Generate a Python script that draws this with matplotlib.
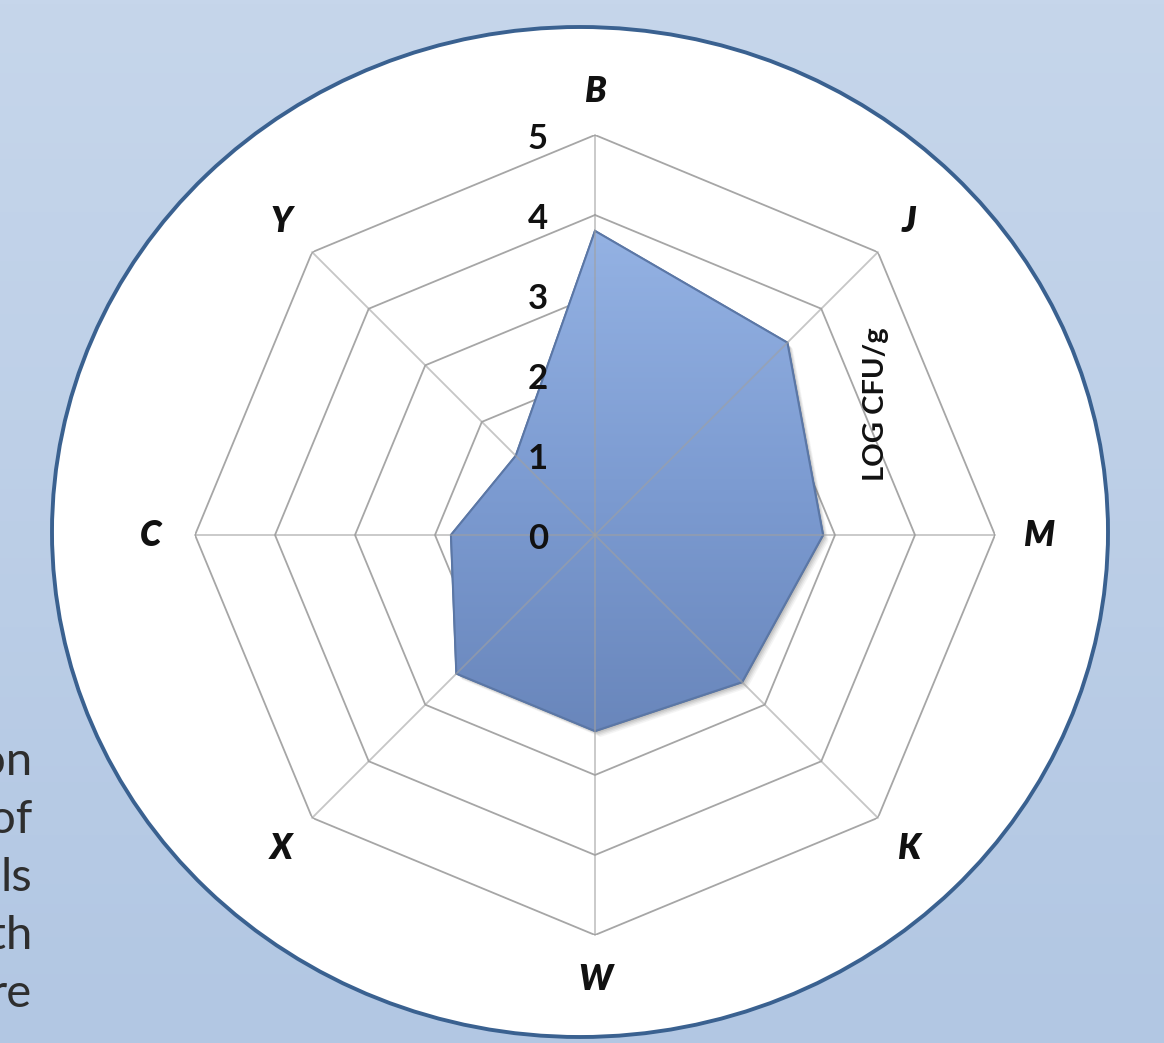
import numpy as np
import matplotlib
matplotlib.use('Agg')
import matplotlib.pyplot as plt
from matplotlib.patches import Ellipse
from matplotlib.colors import LinearSegmentedColormap
from matplotlib import transforms

# data
categories = ['B', 'J', 'M', 'K', 'W', 'X', 'C', 'Y']
values = [3.8, 3.4, 2.85, 2.6, 2.45, 2.45, 1.8, 1.4]
ticks = [0, 1, 2, 3, 4, 5]
unit_label = 'LOG CFU/g'
side_text = ['on', 'of', 'ls', 'th', 're']   # cut-off body text at lower left

plt.rcParams['font.family'] = ['Lato', 'DejaVu Sans']

W, H = 1164, 1043
fig = plt.figure(figsize=(W / 100, H / 100), dpi=100)

# ---------- background: gradient + white oval ----------
bg = fig.add_axes([0, 0, 1, 1], zorder=0)
grad = np.linspace(0, 1, 256).reshape(-1, 1)
bg.imshow(grad, extent=[0, W, H, 0], aspect='auto',
          cmap=LinearSegmentedColormap.from_list('bg', ['#c6d6eb', '#b2c7e3']))
bg.add_patch(Ellipse((580, 532), 1056, 1010, facecolor='white', edgecolor='#3a6190', lw=2.8))
bg.set_xlim(0, W)
bg.set_ylim(H, 0)
bg.axis('off')

for i, s in enumerate(side_text):
    bg.text(32, 762 + i * 58, s, ha='right', va='center', fontsize=34, color='#2e2e2e')

# ---------- radar ----------
ax = fig.add_axes([195 / W, 108 / H, 800 / W, 800 / H], projection='polar', zorder=1)
ax.set_facecolor('none')
ax.set_theta_zero_location('N')
ax.set_theta_direction(-1)
ax.grid(False)
ax.set_xticks([])
ax.set_yticks([])
ax.spines['polar'].set_visible(False)

angles = np.linspace(0, 2 * np.pi, len(categories), endpoint=False)
ang_c = np.append(angles, angles[0])
val_c = np.append(values, values[0])

for r in ticks[1:]:
    ax.plot(ang_c, [r] * len(ang_c), color='#a6a6a6', lw=1.3, zorder=1)

# soft shadow
for k, a in [(10, 0.05), (8, 0.07), (6, 0.09), (4, 0.11), (2, 0.12)]:
    tr = transforms.offset_copy(ax.transData, fig=fig, x=k * 0.55, y=-k * 0.6, units='dots')
    ax.fill(ang_c, val_c, color='#3a3a3a', alpha=a, lw=0, transform=tr, zorder=2)

poly = ax.fill(ang_c, val_c, facecolor='#7f9ed3', edgecolor='#56729f', lw=1.6, zorder=3)[0]
ax.set_ylim(0, 5)

# ---------- overlay: gradient fill of the area, spokes, labels ----------
ov = fig.add_axes([0, 0, 1, 1], zorder=2)
ov.set_facecolor('none')
ov.set_xlim(0, W)
ov.set_ylim(H, 0)
ov.axis('off')

fill_grad = np.linspace(0, 1, 256).reshape(-1, 1)
im = ov.imshow(fill_grad, extent=[0, W, 760, 220], aspect='auto',
               cmap=LinearSegmentedColormap.from_list('fill', ['#95b3e4', '#7c9bd1', '#6784b9']))
im.set_clip_path(poly)
ov.set_xlim(0, W)
ov.set_ylim(H, 0)

# outline again on top of the gradient
ov.plot(ang_c, val_c, color='#5b77a6', lw=1.4, transform=ax.transData)

for a in angles:
    ov.plot([a, a], [0, 5], color='#a0a0a0', lw=1.3, alpha=0.6, transform=ax.transData)

for t in ticks:
    ov.annotate(str(t), xy=(0, t), xycoords=ax.transData, xytext=(-47, -4),
                textcoords='offset pixels', ha='right', va='center',
                fontsize=25, fontweight='bold', color='#111111')

for a, c in zip(angles, categories):
    ov.text(a, 5.55, c, transform=ax.transData, ha='center', va='center', fontsize=25,
            fontweight='heavy', fontstyle='italic', color='#111111')

ov.text(876, 404, unit_label, rotation=90, ha='center', va='center',
        fontsize=21, fontweight='bold', color='#111111')

fig.savefig('out.png', dpi=100)
